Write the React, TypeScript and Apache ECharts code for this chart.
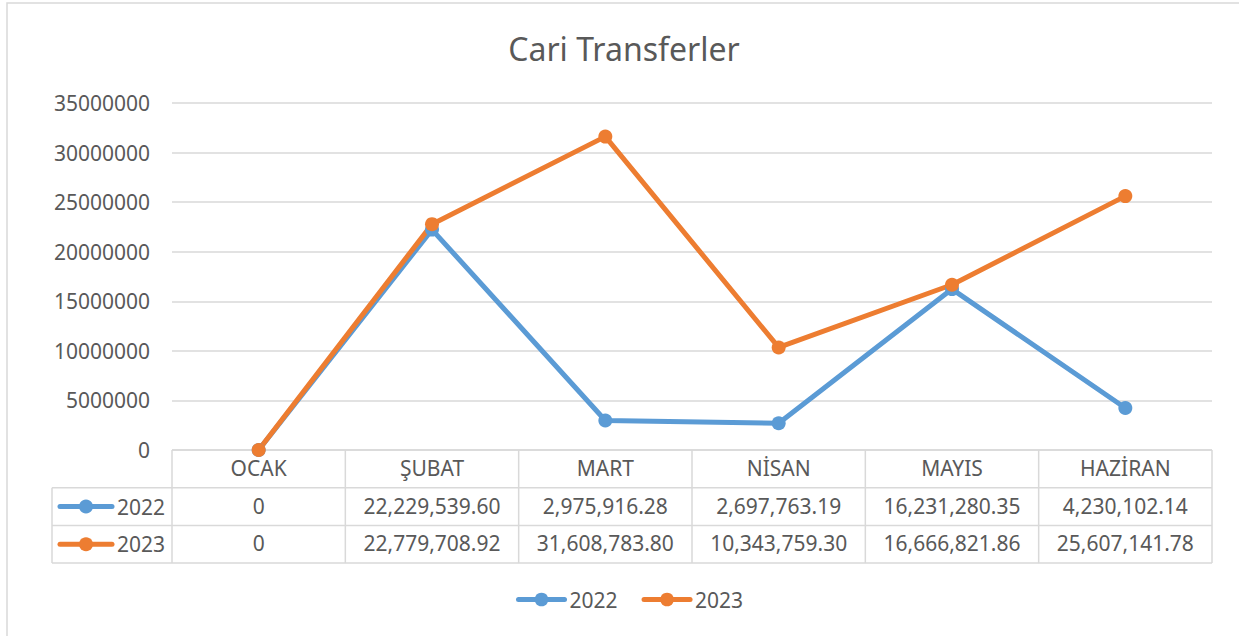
import React, { useEffect, useRef } from "react";
import * as echarts from "echarts";

const title = "Cari Transferler";
const categories = ["OCAK", "ŞUBAT", "MART", "NİSAN", "MAYIS", "HAZİRAN"];
const seriesNames = ["2022", "2023"];
const values2022 = [0, 22229539.6, 2975916.28, 2697763.19, 16231280.35, 4230102.14];
const values2023 = [0, 22779708.92, 31608783.8, 10343759.3, 16666821.86, 25607141.78];
const yMax = 35000000;
const yInterval = 5000000;

const colors = ["#5B9BD5", "#ED7D31"];
const textColor = "#595959";
const lineColor = "#D9D9D9";
const FONT = "'Noto Sans', 'Open Sans', sans-serif";

const W = 1239;
const H = 636;
const GL = 172;
const GR = 27;
const GT = 103;
const GB = 186;

const fmt = (v: number) =>
  v === 0 ? "0" : v.toLocaleString("en-US", { minimumFractionDigits: 2, maximumFractionDigits: 2 });

export default function App() {
  const ref = useRef<HTMLDivElement>(null);
  useEffect(() => {
    if (!ref.current) return;
    const chart = echarts.init(ref.current, null, { renderer: "svg" });
    const plotBottom = H - GB;
    const plotRight = W - GR;
    const rowH = 37.7;
    const tableLeft = 52;
    const rows = [plotBottom, plotBottom + rowH, plotBottom + 2 * rowH, plotBottom + 3 * rowH];
    const colW = (plotRight - GL) / categories.length;
    const gl: any[] = [];
    // border
    gl.push({ type: "rect", shape: { x: 7, y: 3, width: W + 20, height: H + 20 }, style: { fill: "none", stroke: lineColor, lineWidth: 1.5 }, silent: true });
    gl.push({ type: "text", x: 624, y: 48, style: { text: title, fill: textColor, font: `32px ${FONT}`, align: "center", verticalAlign: "middle" } });
    // table horizontal lines
    gl.push({ type: "line", shape: { x1: GL, y1: rows[0], x2: plotRight, y2: rows[0] }, style: { stroke: lineColor, lineWidth: 1.5 } });
    for (let i = 1; i < 4; i++) {
      gl.push({ type: "line", shape: { x1: tableLeft, y1: rows[i], x2: plotRight, y2: rows[i] }, style: { stroke: lineColor, lineWidth: 1.5 } });
    }
    gl.push({ type: "line", shape: { x1: tableLeft, y1: rows[1], x2: tableLeft, y2: rows[3] }, style: { stroke: lineColor, lineWidth: 1.5 } });
    for (let c = 0; c <= categories.length; c++) {
      const x = GL + c * colW;
      gl.push({ type: "line", shape: { x1: x, y1: rows[0], x2: x, y2: rows[3] }, style: { stroke: lineColor, lineWidth: 1.5 } });
    }
    // row legend keys in table
    seriesNames.forEach((name, i) => {
      const cy = (rows[i + 1] + rows[i + 2]) / 2;
      gl.push({ type: "line", shape: { x1: 60, y1: cy, x2: 112, y2: cy }, style: { stroke: colors[i], lineWidth: 5, lineCap: "round" } });
      gl.push({ type: "circle", shape: { cx: 86, cy, r: 7 }, style: { fill: colors[i] } });
      gl.push({ type: "text", x: 117, y: cy, style: { text: name, fill: textColor, font: `21px ${FONT}`, align: "left", verticalAlign: "middle" } });
    });

    const xLabelBase = { color: textColor, fontSize: 21, fontFamily: FONT, verticalAlign: "middle" as const, margin: 18, interval: 0 };
    chart.setOption({
      animation: false,
      grid: { left: GL, right: GR, top: GT, bottom: GB, containLabel: false },
      legend: {
        data: seriesNames,
        left: 511,
        top: 584,
        itemWidth: 46,
        itemHeight: 17,
        itemGap: 24,
        lineStyle: { width: 5, cap: "round" },
        textStyle: { color: textColor, fontSize: 21, fontFamily: FONT },
      },
      xAxis: [
        {
          type: "category",
          data: categories,
          boundaryGap: true,
          axisLine: { show: false },
          axisTick: { show: false },
          axisLabel: xLabelBase,
        },
        {
          type: "category",
          data: values2022.map(fmt),
          position: "bottom",
          offset: rowH,
          boundaryGap: true,
          axisLine: { show: false },
          axisTick: { show: false },
          axisLabel: xLabelBase,
        },
        {
          type: "category",
          data: values2023.map(fmt),
          position: "bottom",
          offset: rowH * 2,
          boundaryGap: true,
          axisLine: { show: false },
          axisTick: { show: false },
          axisLabel: xLabelBase,
        },
      ],
      yAxis: {
        type: "value",
        min: 0,
        max: yMax,
        interval: yInterval,
        axisLine: { show: false },
        axisTick: { show: false },
        axisLabel: { color: textColor, fontSize: 21, fontFamily: FONT, margin: 22, formatter: (v: number) => String(v) },
        splitLine: { lineStyle: { color: lineColor, width: 1.5 } },
      },
      series: [
        {
          name: seriesNames[0],
          type: "line",
          data: values2022,
          xAxisIndex: 0,
          color: colors[0],
          symbol: "circle",
          symbolSize: 14,
          lineStyle: { width: 5, color: colors[0], cap: "round" },
          itemStyle: { color: colors[0] },
        },
        {
          name: seriesNames[1],
          type: "line",
          data: values2023,
          xAxisIndex: 0,
          color: colors[1],
          symbol: "circle",
          symbolSize: 14,
          lineStyle: { width: 5, color: colors[1], cap: "round" },
          itemStyle: { color: colors[1] },
        },
      ],
      graphic: gl,
    });
    return () => chart.dispose();
  }, []);
  return (
    <div
      ref={ref}
      style={{ position: "fixed", left: 0, top: 0, width: W, height: H, background: "#fff" }}
    />
  );
}
